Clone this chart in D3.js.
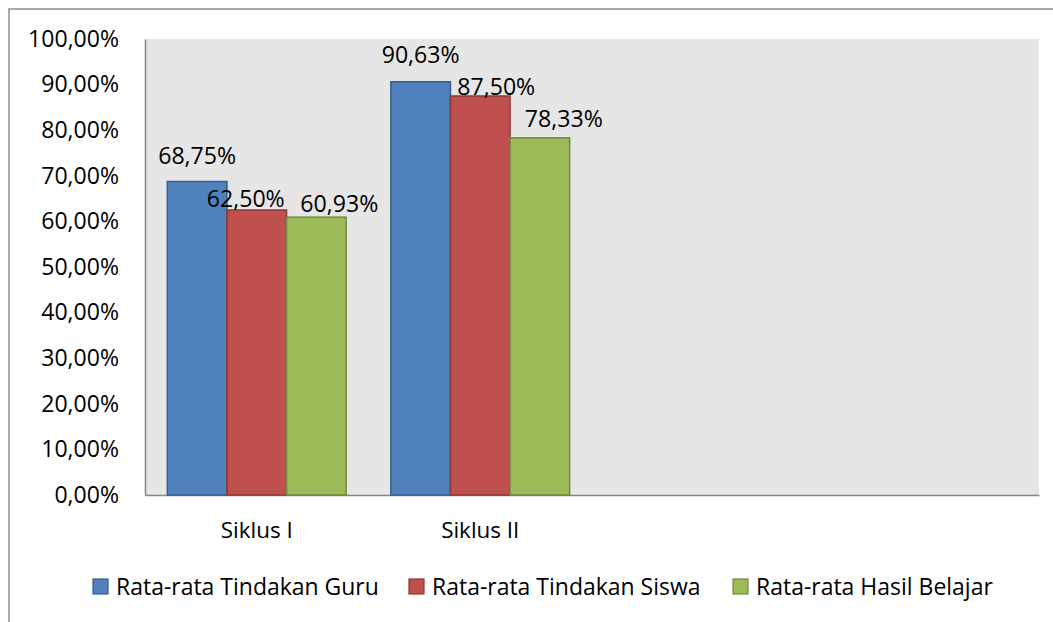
<!DOCTYPE html>
<html><head><meta charset="utf-8">
<script src="https://cdn.jsdelivr.net/npm/d3@7"></script>
<style>body{margin:0;background:#fff}svg{display:block}text{font-family:"Open Sans",sans-serif;fill:#000}</style>
</head><body><svg id="c" width="1053" height="622"></svg>
<script>
const categories = ["Siklus I", "Siklus II", "", " "];
const seriesNames = ["Rata-rata Tindakan Guru", "Rata-rata Tindakan Siswa", "Rata-rata Hasil Belajar"];
const guru = [0.6875, 0.9063, null, null];
const siswa = [0.6250, 0.8750, null, null];
const hasil = [0.6093, 0.7833, null, null];
const labelsGuru = ["68,75%", "90,63%"];
const labelsSiswa = ["62,50%", "87,50%"];
const labelsHasil = ["60,93%", "78,33%"];
const yTicks = [0, 0.1, 0.2, 0.3, 0.4, 0.5, 0.6, 0.7, 0.8, 0.9, 1.0];

const fills = ["#4F81BD", "#C0504D", "#9BBB59"];
const strokes = ["#385D8A", "#8C3836", "#71893F"];
const series = [guru, siswa, hasil];
const labels = [labelsGuru, labelsSiswa, labelsHasil];
// label placement adjustments (layout, Excel-style overlap avoidance)
const labelShift = [[[0,-26],[0,-27]],[[-11,-11],[16,-9]],[[23,-13],[24,-19]]];

const svg = d3.select("#c");
const P = {l:145, r:1039, t:39, b:495};

// font size fitted so a sample string reaches a given width
function fitSize(str, target){
  const t = svg.append("text").attr("font-size",20).style("font-family",'"Open Sans",sans-serif').text(str);
  const w = t.node().getComputedTextLength(); t.remove();
  return 20*target/w;
}
const fsTick = fitSize("100,00%", 91);
const fsLabel = fitSize("68,75%", 78);
const fsCat = fitSize("Siklus I", 72);
const fsLeg = fitSize("Rata-rata Tindakan Guru", 263);

// outer chart border (partially clipped)
svg.append("rect").attr("x",9).attr("y",9).attr("width",1060).attr("height",630)
  .attr("fill","none").attr("stroke","#8e8e8e").attr("stroke-width",1.5);

svg.append("rect").attr("x",P.l).attr("y",P.t).attr("width",P.r-P.l).attr("height",P.b-P.t).attr("fill","#E6E6E6");

const x = d3.scaleBand().domain(categories).range([P.l,P.r]);
const y = d3.scaleLinear().domain([0,1]).range([P.b,P.t]);
const bw = x.bandwidth()/3.75;
const x1 = d3.scaleBand().domain([0,1,2]).range([0,3*bw]);

const fmt = v => d3.format(".2f")(v*100).replace(".",",")+"%";

// y axis
const ya = svg.append("g").attr("transform",`translate(${P.l},0)`)
  .call(d3.axisLeft(y).tickValues(yTicks).tickFormat(fmt).tickSize(0).tickPadding(26));
ya.select(".domain").attr("stroke","#868686").attr("stroke-width",1.5);
ya.selectAll("text").style("font-family",'"Open Sans",sans-serif').attr("font-size",fsTick).attr("fill","#000");

// x axis
const xa = svg.append("g").attr("transform",`translate(0,${P.b})`)
  .call(d3.axisBottom(x).tickSize(0));
xa.select(".domain").attr("stroke","#868686").attr("stroke-width",1.5);
xa.selectAll("text").style("font-family",'"Open Sans",sans-serif').attr("font-size",fsCat).attr("fill","#000")
  .attr("y",35).attr("dy","0.35em");

series.forEach((vals,si)=>{
  const g = svg.append("g");
  vals.forEach((v,ci)=>{
    if(v==null) return;
    const bx = x(categories[ci]) + (x.bandwidth()-3*bw)/2 + x1(si);
    g.append("rect").attr("x",bx).attr("y",y(v)).attr("width",bw).attr("height",y(0)-y(v))
      .attr("fill",fills[si]).attr("stroke",strokes[si]).attr("stroke-width",1.5);
    const sh = labelShift[si][ci];
    g.append("text").attr("x",bx+bw/2+sh[0]).attr("y",y(v)+sh[1]).attr("dy","0.35em")
      .attr("text-anchor","middle").attr("font-size",fsLabel).text(labels[si][ci]);
  });
});

// legend
const legX = [93, 409, 733];
const lg = svg.append("g");
seriesNames.forEach((n,i)=>{
  lg.append("rect").attr("x",legX[i]).attr("y",579).attr("width",15).attr("height",15)
    .attr("fill",fills[i]).attr("stroke",strokes[i]).attr("stroke-width",1.2);
  lg.append("text").attr("x",legX[i]+23).attr("y",587).attr("dy","0.35em").attr("font-size",fsLeg).text(n);
});
</script></body></html>
